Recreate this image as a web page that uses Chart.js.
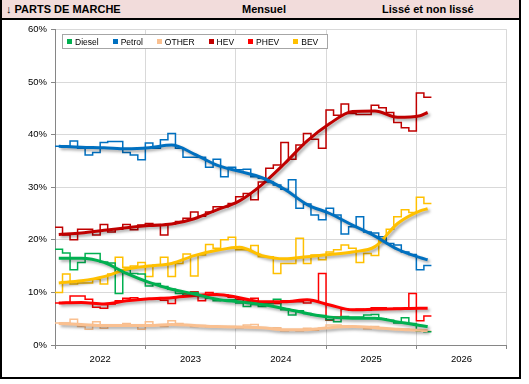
<!DOCTYPE html>
<html>
<head>
<meta charset="utf-8">
<script src="https://cdn.jsdelivr.net/npm/chart.js@4.4.1/dist/chart.umd.min.js"></script>
<style>
body{margin:0;background:#fff;font-family:"Liberation Sans",Arial,sans-serif;}
#wrap{position:relative;width:529px;height:384px;overflow:hidden;}
#cv{position:absolute;left:0;top:0;}
#frame{position:absolute;left:0;top:0;width:521px;height:379px;box-sizing:border-box;border:2px solid #000;border-top:none;pointer-events:none;}
#head{position:absolute;left:0;top:0;width:521px;height:20px;box-sizing:border-box;background:#F2DCDB;border:2px solid #000;border-top:none;}
.ht{position:absolute;top:3px;font-weight:bold;font-size:11px;line-height:13px;color:#000;white-space:nowrap;}
#legend{position:absolute;left:62px;top:34px;width:266px;height:15px;box-sizing:border-box;border:1px solid #A6A6A6;background:#fff;display:flex;align-items:center;padding-left:4px;overflow:hidden;}
.li{display:flex;align-items:center;margin-right:14px;font-size:8.5px;color:#000;white-space:nowrap;}
.sq{width:5px;height:5px;margin-right:3px;}
</style>
</head>
<body>
<div id="wrap">
  <canvas id="cv" width="529" height="384"></canvas>
  <div id="frame"></div>
  <div id="head">
    <span class="ht" style="left:4px">↓ PARTS DE MARCHE</span>
    <span class="ht" style="left:240px">Mensuel</span>
    <span class="ht" style="left:380px">Lissé et non lissé</span>
  </div>
  <div id="legend"></div>
</div>
<script>
// axe des années
const years = ['2022', '2023', '2024', '2025', '2026'];

// valeurs mensuelles (jan 2022 -> fev 2026), en %
const diesel = [18.2,17.5,14.3,15.7,17.4,17.4,15.8,15.6,9.8,14.3, 13.6,13.5,11.2,11.7,11.1,10.6,9.8,9.5,10.0,9.4, 8.9,8.4,8.5,8.6,8.0,7.3,7.7,7.3,7.9,8.7, 6.7,5.7,6.5,6.0,5.7,5.6,4.8,4.4,5.4,5.3, 5.3,5.7,5.8,5.0,4.7,4.2,5.2,4.1,2.6,2.5];
const petrol = [37.8,37.8,38.8,37.4,36.1,36.6,38.5,38.7,38.7,36.6, 36.1,35.2,38.4,37.4,39.0,40.2,37.4,35.7,35.7,35.7, 33.8,35.3,32.0,33.8,33.3,33.4,32.0,31.7,31.0,30.4, 29.6,31.4,26.0,26.8,24.7,23.8,26.0,24.7,21.1,22.5, 24.4,21.5,21.3,20.6,19.3,19.0,17.7,17.2,14.3,15.1];
const other = [4.2,4.2,4.9,3.5,3.0,4.4,3.2,3.7,3.7,4.1, 3.7,3.0,4.4,3.8,3.5,4.6,4.1,3.8,3.5,3.7, 3.5,3.5,3.5,3.5,3.3,3.8,3.9,3.2,3.2,3.3, 2.7,2.8,2.7,3.2,2.8,3.2,3.8,3.8,3.6,3.5, 3.4,3.1,3.5,3.2,3.1,3.0,3.0,2.9,2.7,2.6];
const hev = [22.4,20.9,20.0,22.0,22.0,20.9,22.9,21.5,22.0,22.9, 21.9,22.8,23.1,22.9,20.9,23.0,23.5,24.1,25.3,24.5, 25.3,26.3,26.3,26.9,28.2,28.8,27.6,31.0,33.6,34.2, 38.5,35.3,38.0,40.2,39.1,37.4,44.7,43.7,45.8,44.0, 43.8,43.8,45.6,45.1,44.2,42.3,41.3,40.7,47.9,47.1];
const phev = [8.0,8.1,9.3,9.3,8.7,7.2,7.0,7.8,8.4,8.9, 9.0,8.8,8.7,8.7,8.5,7.9,9.1,9.8,10.1,8.4, 10.0,9.5,9.5,9.1,8.6,8.3,8.9,7.9,7.9,7.9, 8.4,8.2,8.2,8.0,8.4,13.6,4.7,5.3,6.8,6.6, 6.8,6.6,7.1,7.1,6.8,7.0,7.0,9.8,4.6,5.5];
const bev = [10.0,13.5,11.6,11.8,11.8,12.5,11.6,13.5,16.7,14.8, 15.0,15.7,13.0,15.2,16.7,13.0,15.5,17.3,13.1,17.1, 19.1,18.4,20.0,20.5,18.1,18.1,18.9,16.8,16.8,13.6, 15.5,15.5,20.3,15.5,17.1,16.2,17.7,18.1,19.0,18.4, 15.7,17.4,17.0,20.0,22.0,24.4,25.7,25.2,28.1,26.9];

// courbes lissées, relevées tous les 3 mois
const smoothMonths = [0,3,6,9,12,15,18,21,24,27,30,33,36,39,42,45,48,49];
const dieselS = [16.5,16.5,15.7,13.6,11.9,10.6,9.7,8.7,8.2,7.7,6.9,6.0,5.3,5.1,5.1,4.4,3.7,3.5];
const petrolS = [37.8,37.6,37.5,37.3,37.5,38.0,36.3,34.2,33.0,31.8,29.6,26.7,25.0,22.8,20.7,18.2,16.6,16.2];
const otherS = [4.1,3.9,3.7,3.7,3.7,3.9,3.7,3.5,3.4,3.3,2.9,2.9,3.3,3.5,3.3,3.0,2.8,2.7];
const hevS = [21.0,21.3,21.8,22.3,22.7,23.0,24.0,25.7,27.4,30.5,34.5,38.8,42.1,44.4,44.5,43.3,43.6,44.2];
const phevS = [8.0,8.1,7.8,8.4,8.8,9.0,9.4,9.6,9.0,8.2,8.2,8.6,7.6,6.7,6.8,6.9,7.0,7.0];
const bevS = [11.8,12.2,13.0,14.4,15.0,15.5,17.0,18.0,18.6,17.0,16.4,16.8,17.2,17.7,18.7,23.1,25.5,25.9];

const series = [
  {label: 'Diesel', raw: diesel, smooth: dieselS, color: '#00B050'},
  {label: 'Petrol', raw: petrol, smooth: petrolS, color: '#0070C0'},
  {label: 'OTHER', raw: other, smooth: otherS, color: '#FAC090'},
  {label: 'HEV', raw: hev, smooth: hevS, color: '#C00000'},
  {label: 'PHEV', raw: phev, smooth: phevS, color: '#FF0000'},
  {label: 'BEV', raw: bev, smooth: bevS, color: '#FFC000'}
];

// marches mensuelles : chaque valeur couvre son mois
function stepPts(vals){
  let p = vals.map((v, i) => ({x: i, y: v}));
  p.push({x: vals.length, y: vals[vals.length - 1]});
  return p;
}
function smoothPts(vals){
  return vals.map((v, i) => ({x: smoothMonths[i] + 0.5, y: v}));
}

let datasets = [];
series.forEach((s) => {
  datasets.push({label: s.label, data: stepPts(s.raw), xAxisID: 'xd', borderColor: s.color,
    borderWidth: 1.5, stepped: true, pointRadius: 0, fill: false, order: 2});
});
series.forEach((s) => {
  datasets.push({label: s.label + ' lissé', data: smoothPts(s.smooth), xAxisID: 'xd', borderColor: s.color,
    borderWidth: 3, cubicInterpolationMode: 'monotone', pointRadius: 0, fill: false, order: 1, isSmooth: true});
});

// legende html
let lg = document.getElementById('legend');
series.forEach((s) => {
  let it = document.createElement('div');
  it.className = 'li';
  it.innerHTML = '<span class="sq" style="background:' + s.color + '"></span>' + s.label;
  lg.appendChild(it);
});

// ombre grise sous les courbes lissées
const shadowPlugin = {
  id: 'shadow',
  beforeDatasetDraw(chart, args){
    if(!chart.data.datasets[args.index].isSmooth) return;
    let c = chart.ctx;
    c.save();
    c.shadowColor = 'rgba(0,0,0,0.35)';
    c.shadowBlur = 3;
    c.shadowOffsetX = 2;
    c.shadowOffsetY = 2;
  },
  afterDatasetDraw(chart, args){
    if(!chart.data.datasets[args.index].isSmooth) return;
    chart.ctx.restore();
  }
};

const font = {family: 'Liberation Sans', size: 9.5};

new Chart(document.getElementById('cv').getContext('2d'), {
  type: 'line',
  data: {datasets: datasets},
  plugins: [shadowPlugin],
  options: {
    responsive: false,
    animation: false,
    devicePixelRatio: 1,
    layout: {padding: {top: 29.4, right: 22.3, left: 0, bottom: 0}},
    plugins: {legend: {display: false}, tooltip: {enabled: false}},
    scales: {
      x: {
        type: 'category', labels: years, offset: true,
        grid: {offset: true, color: '#D9D9D9', tickColor: '#868686', tickLength: 4},
        border: {color: '#868686'},
        ticks: {font: font, color: '#000', padding: 5, maxRotation: 0},
        afterFit(s){ s.height = 39; }
      },
      xd: {type: 'linear', min: 0, max: 60, display: false},
      y: {
        min: 0, max: 60,
        ticks: {stepSize: 10, callback: (v) => v + '%', font: font, color: '#000', padding: 4},
        grid: {color: '#D9D9D9', tickColor: '#868686', tickLength: 4},
        border: {color: '#868686'},
        afterFit(s){ s.width = 55; }
      }
    }
  }
});
</script>
</body>
</html>
